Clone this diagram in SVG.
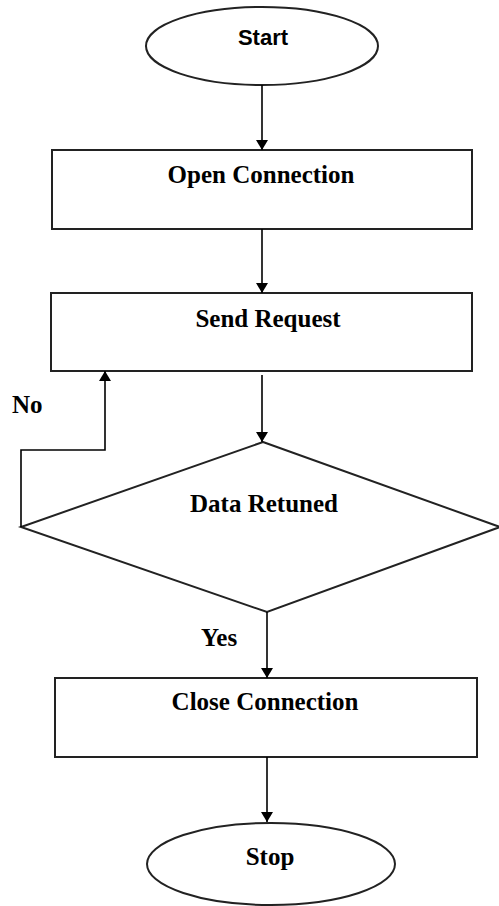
<svg xmlns="http://www.w3.org/2000/svg" width="499" height="906" viewBox="0 0 499 906">
<style>
.shape{fill:#fff;stroke:#222;stroke-width:2}
.conn{fill:none;stroke:#000;stroke-width:1.6}
.lbl{font-family:"Liberation Serif","Times New Roman",serif;font-weight:bold;font-size:25px;fill:#000}
.sans{font-family:"Liberation Sans",Arial,sans-serif;font-weight:bold;font-size:22px;fill:#000}
</style>
<defs>
<marker id="arr" viewBox="0 0 10 12" refX="10" refY="6" markerWidth="10" markerHeight="12" markerUnits="userSpaceOnUse" orient="auto">
<path d="M0,0 L10,6 L0,12 Z" fill="#000"/>
</marker>
</defs>
<rect width="499" height="906" fill="#fff"/>
<g id="start">
<ellipse class="shape" cx="262" cy="46" rx="116" ry="39"/>
<text class="sans" x="263" y="45" text-anchor="middle">Start</text>
</g>
<g id="open">
<rect class="shape" x="52" y="150" width="420" height="79"/>
<text class="lbl" x="261" y="183" text-anchor="middle">Open Connection</text>
</g>
<g id="send">
<rect class="shape" x="51" y="293" width="421" height="78"/>
<text class="lbl" x="268" y="327" text-anchor="middle">Send Request</text>
</g>
<g id="decision">
<polygon class="shape" points="263,442 500,527 267,612 21,527"/>
<text class="lbl" x="264" y="512" text-anchor="middle">Data Retuned</text>
</g>
<g id="close">
<rect class="shape" x="55" y="678" width="422" height="79"/>
<text class="lbl" x="265" y="710" text-anchor="middle">Close Connection</text>
</g>
<g id="stop">
<ellipse class="shape" cx="271" cy="864" rx="124" ry="41"/>
<text class="lbl" x="270" y="865" text-anchor="middle">Stop</text>
</g>
<g id="connectors">
<line class="conn" x1="262" y1="85" x2="262" y2="150" marker-end="url(#arr)"/>
<line class="conn" x1="262" y1="229" x2="262" y2="293" marker-end="url(#arr)"/>
<line class="conn" x1="262" y1="375" x2="262" y2="442" marker-end="url(#arr)"/>
<line class="conn" x1="267" y1="612" x2="267" y2="678" marker-end="url(#arr)"/>
<line class="conn" x1="267" y1="757" x2="267" y2="822" marker-end="url(#arr)"/>
<polyline class="conn" points="21,527 21,450 105,450 105,371" marker-end="url(#arr)"/>
<text class="lbl" x="12" y="413">No</text>
<text class="lbl" x="201" y="646">Yes</text>
</g>
</svg>
